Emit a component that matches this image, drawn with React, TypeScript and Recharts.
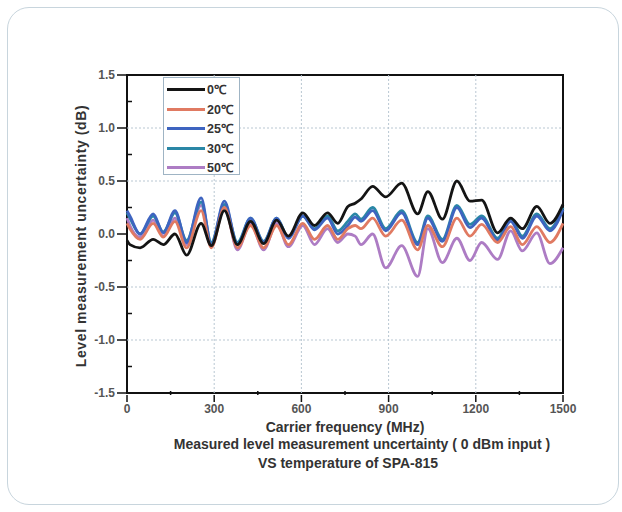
import React from "react";
import {
  LineChart,
  Line,
  XAxis,
  YAxis,
  ReferenceLine,
  ReferenceArea,
} from "recharts";

// carrier frequency (MHz) sample points
const freqs = [
  0, 10, 45, 90, 125, 165, 205, 255, 290, 335, 380, 425, 470, 515, 555, 605,
  645, 690, 725, 760, 785, 805, 845, 890, 945, 1000, 1035, 1085, 1135, 1180,
  1220, 1275, 1320, 1360, 1410, 1455, 1500,
];

const t0 = [
  -0.06, -0.1, -0.13, -0.05, -0.1, 0.0, -0.2, 0.1, -0.11, 0.22, -0.1, 0.12,
  -0.09, 0.13, -0.02, 0.2, 0.08, 0.2, 0.1, 0.26, 0.29, 0.33, 0.45, 0.35, 0.48,
  0.19, 0.4, 0.14, 0.5, 0.31, 0.32, 0.01, 0.15, 0.05, 0.26, 0.1, 0.28,
];
const t20 = [
  0.1, 0.05, -0.05, 0.1, -0.03, 0.12, -0.13, 0.22, -0.13, 0.25, -0.13, 0.08,
  -0.13, 0.08, -0.1, 0.1, -0.05, 0.08, -0.05, 0.05, 0.08, 0.05, 0.15, -0.02,
  0.13, -0.15, 0.08, -0.12, 0.15, -0.02, 0.09, -0.08, 0.07, -0.1, 0.07, -0.08,
  0.1,
];
const t25 = [
  0.22, 0.17, 0.0, 0.19, 0.01, 0.22, -0.08, 0.34, -0.1, 0.31, -0.1, 0.15,
  -0.08, 0.15, -0.04, 0.17, 0.04, 0.15, 0.0, 0.08, 0.16, 0.12, 0.22, 0.03, 0.2,
  -0.1, 0.15, -0.07, 0.25, 0.06, 0.15, -0.06, 0.12, -0.04, 0.17, 0.03, 0.23,
];
const t30 = [
  0.2, 0.15, 0.0, 0.17, 0.02, 0.2, -0.06, 0.3, -0.08, 0.28, -0.08, 0.15, -0.07,
  0.15, -0.03, 0.17, 0.05, 0.17, 0.03, 0.12, 0.19, 0.14, 0.25, 0.05, 0.22,
  -0.08, 0.17, -0.05, 0.27, 0.09, 0.17, -0.04, 0.14, -0.02, 0.19, 0.05, 0.25,
];
const t50 = [
  0.15, 0.08, -0.03, 0.13, -0.02, 0.15, -0.1, 0.27, -0.12, 0.27, -0.15, 0.1,
  -0.15, 0.1, -0.12, 0.08, -0.1, 0.05, -0.08, 0.0, -0.02, -0.1, 0.0, -0.32,
  -0.11, -0.4, 0.05, -0.27, -0.04, -0.25, -0.08, -0.24, 0.03, -0.16, 0.01,
  -0.28, -0.13,
];

const xTicks = [0, 150, 300, 450, 600, 750, 900, 1050, 1200, 1350, 1500];
const yTicks = [
  -1.5, -1.25, -1.0, -0.75, -0.5, -0.25, 0, 0.25, 0.5, 0.75, 1.0, 1.25, 1.5,
];
const xGrid = [300, 600, 900, 1200];
const yGrid = [-1.0, -0.5, 0.5, 1.0];

const series = [
  { key: "t0", name: "0\u2103", color: "#141414" },
  { key: "t20", name: "20\u2103", color: "#e07a62" },
  { key: "t25", name: "25\u2103", color: "#3e64c0" },
  { key: "t30", name: "30\u2103", color: "#2a87a6" },
  { key: "t50", name: "50\u2103", color: "#ad7cc4" },
];

const data = freqs.map((f, i) => ({
  f,
  t0: t0[i],
  t20: t20[i],
  t25: t25[i],
  t30: t30[i],
  t50: t50[i],
}));

const FONT = "'Liberation Sans', Arial, sans-serif";

const XTick = (props: any) => {
  const { x, y, payload } = props;
  const major = payload.value % 300 === 0;
  return (
    <g>
      <line
        x1={x}
        x2={x}
        y1={y - 6}
        y2={major ? y + 1 : y - 10}
        stroke="#111"
        strokeWidth={1.5}
      />
      {major && (
        <text
          x={x}
          y={y + 12}
          textAnchor="middle"
          fontSize={12}
          fontWeight="bold"
          fill="#555"
          fontFamily={FONT}
        >
          {payload.value}
        </text>
      )}
    </g>
  );
};

const YTick = (props: any) => {
  const { x, y, payload } = props;
  const v = payload.value;
  const major = Math.abs((v * 2) % 1) < 1e-6;
  return (
    <g>
      <line
        x1={major ? x - 2 : x + 8}
        x2={major ? x + 8 : x + 13}
        y1={y}
        y2={y}
        stroke="#111"
        strokeWidth={1.5}
      />
      {major && (
        <text
          x={x - 4}
          y={y + 4}
          textAnchor="end"
          fontSize={12}
          fontWeight="bold"
          fill="#555"
          fontFamily={FONT}
        >
          {v.toFixed(1)}
        </text>
      )}
    </g>
  );
};

const LegendBox = () => (
  <div
    style={{
      position: "absolute",
      left: 163,
      top: 77,
      border: "1px solid #9fb4c4",
      width: 77,
      height: 98,
      background: "#fff",
      boxSizing: "border-box",
      paddingTop: 2,
    }}
  >
    {series.map((s) => (
      <div
        key={s.key}
        style={{ display: "flex", alignItems: "center", height: 19.5 }}
      >
        <div
          style={{
            width: 38,
            height: 3,
            marginLeft: 3,
            background: s.color,
          }}
        />
        <span
          style={{
            fontFamily: FONT,
            fontWeight: "bold",
            fontSize: 12.5,
            color: "#333",
            marginLeft: 2,
          }}
        >
          {s.name}
        </span>
      </div>
    ))}
  </div>
);

const caption: React.CSSProperties = {
  position: "absolute",
  left: 0,
  width: 690,
  textAlign: "center",
  fontFamily: FONT,
  fontWeight: "bold",
  fontSize: 14,
  color: "#333",
};

export default function App() {
  return (
    <div
      style={{
        position: "absolute",
        left: 0,
        top: 0,
        width: 622,
        height: 512,
        background: "#fff",
        overflow: "hidden",
      }}
    >
      <div
        style={{
          position: "absolute",
          left: 7,
          top: 7,
          width: 610,
          height: 496,
          border: "1.5px solid #c8d5dd",
          borderRadius: 22,
        }}
      />
      <div style={{ position: "absolute", left: 0, top: 0 }}>
        <LineChart
          width={622}
          height={512}
          data={data}
          margin={{ top: 75, right: 59, left: 87, bottom: 89 }}
        >
          <XAxis
            dataKey="f"
            type="number"
            domain={[0, 1500]}
            ticks={xTicks}
            interval={0}
            axisLine={false}
            tickLine={false}
            tick={<XTick />}
            height={30}
          />
          <YAxis
            type="number"
            domain={[-1.5, 1.5]}
            ticks={yTicks}
            interval={0}
            axisLine={false}
            tickLine={false}
            tick={<YTick />}
            width={40}
          />
          {xGrid.map((v) => (
            <ReferenceLine
              key={"x" + v}
              x={v}
              stroke="#b9c7d2"
              strokeDasharray="2 2"
            />
          ))}
          {yGrid.map((v) => (
            <ReferenceLine
              key={"y" + v}
              y={v}
              stroke="#b9c7d2"
              strokeDasharray="2 2"
            />
          ))}
          {[...series].reverse().map((s) => (
            <Line
              key={s.key}
              dataKey={s.key}
              name={s.name}
              type="monotone"
              stroke={s.color}
              strokeWidth={2.8}
              dot={false}
              isAnimationActive={false}
            />
          ))}
          <ReferenceArea
            x1={0}
            x2={1500}
            y1={-1.5}
            y2={1.5}
            fill="none"
            stroke="#111"
            strokeWidth={2}
            ifOverflow="visible"
          />
        </LineChart>
      </div>
      <LegendBox />
      <div
        style={{
          position: "absolute",
          left: 81,
          top: 236,
          transform: "translate(-50%, -50%) rotate(-90deg)",
          whiteSpace: "nowrap",
          fontFamily: FONT,
          fontWeight: "bold",
          fontSize: 14,
          letterSpacing: 0.6,
          color: "#333",
        }}
      >
        Level measurement uncertainty (dB)
      </div>
      <div style={{ ...caption, top: 419 }}>Carrier frequency (MHz)</div>
      <div style={{ ...caption, top: 436, left: 17 }}>
        Measured level measurement uncertainty ( 0 dBm input )
      </div>
      <div style={{ ...caption, top: 455, left: 3 }}>
        VS temperature of SPA-815
      </div>
    </div>
  );
}
